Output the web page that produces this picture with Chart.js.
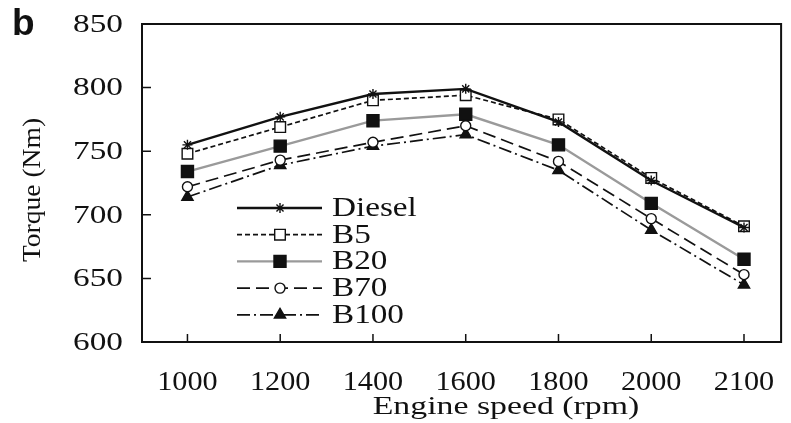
<!DOCTYPE html>
<html>
<head>
<meta charset="utf-8">
<script src="https://cdn.jsdelivr.net/npm/chart.js@4/dist/chart.umd.min.js"></script>
<style>
  html, body { margin: 0; padding: 0; background: #fff; }
  #wrap { width: 791px; height: 423px; }
</style>
</head>
<body>
<div id="wrap"><canvas id="torque-chart" width="791" height="423"></canvas></div>
<script>
// engine speeds (equally spaced on the plot, 2100 included)
const speeds = ['1000', '1200', '1400', '1600', '1800', '2000', '2100'];
const yTicks = [600, 650, 700, 750, 800, 850];

// torque (Nm)
const diesel = [755, 777, 795, 799, 773, 727, 690];
const b5 = [748, 769, 790, 794, 775, 729, 691];
const b20 = [734, 754, 774, 779, 755, 709, 665];
const b70 = [722, 743, 757, 770, 742, 697, 653];
const b100 = [714, 739, 754, 763, 735, 688, 645];

const serif = '"Liberation Serif", "Times New Roman", serif';
const ink = '#111';

const toPoints = (values) => values.map((v, i) => ({ x: i, y: v }));

const series = (label, values, style) => ({
    label,
    data: toPoints(values),
    borderColor: ink,
    borderWidth: 1.7,
    pointBorderColor: ink,
    pointBorderWidth: 1.4,
    pointBackgroundColor: '#fff',
    fill: false,
    tension: 0,
    ...style
});

// the figure's text is a bit wide, so draw it stretched horizontally
function wideText(ctx, text, x, y, size, stretch, align) {
    ctx.save();
    ctx.translate(x, y);
    ctx.scale(stretch, 1);
    ctx.font = size + 'px ' + serif;
    ctx.fillStyle = ink;
    ctx.textAlign = align;
    ctx.textBaseline = 'middle';
    ctx.fillText(text, 0, 0);
    ctx.restore();
}

// frame, inward ticks, tick labels and axis titles
const framePlugin = {
    id: 'frame',
    afterDraw(chart) {
        const { ctx, chartArea: a, scales } = chart;
        ctx.save();
        ctx.strokeStyle = ink;
        ctx.lineWidth = 2;
        ctx.setLineDash([]);
        ctx.strokeRect(a.left, a.top, a.right - a.left, a.bottom - a.top);
        ctx.lineWidth = 1.5;
        ctx.beginPath();
        scales.x.ticks.forEach((t, i) => {
            const px = scales.x.getPixelForTick(i);
            ctx.moveTo(px, a.bottom);
            ctx.lineTo(px, a.bottom - 8);
            wideText(ctx, speeds[t.value], px, a.bottom + 41, 27, 1.12, 'center');
        });
        scales.y.ticks.forEach((t, i) => {
            const py = scales.y.getPixelForTick(i);
            ctx.moveTo(a.left, py);
            ctx.lineTo(a.left + 9, py);
            wideText(ctx, String(t.value), a.left - 19, py + 1, 26, 1.28, 'right');
        });
        ctx.stroke();

        wideText(ctx, 'Engine speed (rpm)', 506, 407, 26, 1.3, 'center');

        ctx.save();
        ctx.translate(33, 190);
        ctx.rotate(-Math.PI / 2);
        wideText(ctx, 'Torque (Nm)', 0, 0, 26, 1.06, 'center');
        ctx.restore();

        // panel letter
        ctx.fillStyle = ink;
        ctx.font = 'bold 37px "Liberation Sans", Arial, sans-serif';
        ctx.textBaseline = 'alphabetic';
        ctx.textAlign = 'left';
        ctx.fillText('b', 12, 35);
        ctx.restore();
    }
};

// legend drawn inside the plot, lower left
const innerLegend = {
    id: 'innerLegend',
    afterDraw(chart) {
        const { ctx } = chart;
        const x0 = 237, x1 = 322, xm = 280, xt = 332, y0 = 208, step = 26.7;
        ctx.save();
        chart.data.datasets.forEach((ds, i) => {
            const y = y0 + i * step;
            ctx.strokeStyle = ds.borderColor;
            ctx.lineWidth = ds.borderWidth;
            ctx.setLineDash(ds.borderDash || []);
            ctx.beginPath();
            ctx.moveTo(x0, y);
            ctx.lineTo(x1, y);
            ctx.stroke();
            ctx.setLineDash([]);
            ctx.fillStyle = ds.pointBackgroundColor;
            ctx.strokeStyle = ds.pointBorderColor;
            ctx.lineWidth = ds.pointBorderWidth;
            Chart.helpers.drawPoint(ctx, {
                pointStyle: ds.pointStyle,
                radius: ds.pointRadius,
                rotation: 0,
                borderWidth: ds.pointBorderWidth
            }, xm, y);
            wideText(ctx, ds.label, xt, y + 1, 27, 1.23, 'left');
        });
        ctx.restore();
    }
};

new Chart(document.getElementById('torque-chart'), {
    type: 'line',
    data: {
        datasets: [
            series('Diesel', diesel, { borderWidth: 2.4, pointStyle: 'star', pointRadius: 5 }),
            series('B5', b5, { borderDash: [5, 3], pointStyle: 'rect', pointRadius: 7.5 }),
            series('B20', b20, {
                borderColor: '#9a9a9a', borderWidth: 2.4, pointStyle: 'rect', pointRadius: 8.5,
                pointBackgroundColor: ink
            }),
            series('B70', b70, { borderDash: [13, 6], pointStyle: 'circle', pointRadius: 5 }),
            series('B100', b100, {
                borderDash: [13, 4, 2, 4], pointStyle: 'triangle', pointRadius: 6.5,
                pointBackgroundColor: ink
            })
        ]
    },
    options: {
        responsive: false,
        animation: false,
        layout: { padding: { top: 24, right: 2, left: 0, bottom: 0 } },
        plugins: {
            legend: { display: false },
            tooltip: { enabled: false }
        },
        scales: {
            x: {
                type: 'linear',
                min: -0.49,
                max: 6.4,
                afterBuildTicks: (axis) => { axis.ticks = speeds.map((s, i) => ({ value: i })); },
                afterFit: (axis) => { axis.height = 81; },
                grid: { display: false, drawTicks: false },
                border: { display: false },
                ticks: { display: false }
            },
            y: {
                min: yTicks[0],
                max: yTicks[yTicks.length - 1],
                afterBuildTicks: (axis) => { axis.ticks = yTicks.map(v => ({ value: v })); },
                afterFit: (axis) => { axis.width = 142; },
                grid: { display: false, drawTicks: false },
                border: { display: false },
                ticks: { display: false }
            }
        }
    },
    plugins: [framePlugin, innerLegend]
});
</script>
</body>
</html>
